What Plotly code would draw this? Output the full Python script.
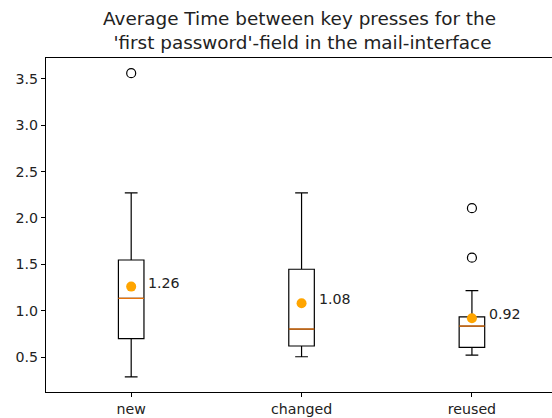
import plotly.graph_objects as go

categories = ["new", "changed", "reused"]
q1 = [0.70, 0.62, 0.605]
medians = [1.134, 0.803, 0.835]
q3 = [1.547, 1.447, 0.935]
lower_whisker = [0.288, 0.504, 0.522]
upper_whisker = [2.27, 2.27, 1.216]
means = [1.26, 1.08, 0.92]
outliers = {"new": [3.56], "changed": [], "reused": [2.105, 1.572]}
y_ticks = [0.5, 1.0, 1.5, 2.0, 2.5, 3.0, 3.5]

title_text = "Average Time between key presses for the<br> 'first password'-field in the mail-interface"

BOX_W = 0.15
positions = [i + 1 for i in range(len(categories))]

fig = go.Figure()

for i, cat in enumerate(categories):
    fig.add_trace(go.Box(
        x=[positions[i]], q1=[q1[i]], median=[medians[i]], q3=[q3[i]],
        lowerfence=[lower_whisker[i]], upperfence=[upper_whisker[i]],
        width=BOX_W, whiskerwidth=0.5,
        line=dict(color="black", width=1.2),
        fillcolor="rgba(0,0,0,0)", showlegend=False, hoverinfo="skip",
    ))

# median lines (orange)
for i, cat in enumerate(categories):
    fig.add_trace(go.Scatter(
        x=[positions[i] - BOX_W / 2, positions[i] + BOX_W / 2],
        y=[medians[i], medians[i]], mode="lines",
        line=dict(color="#ff7f0e", width=1.2), showlegend=False, hoverinfo="skip",
    ))

# outliers
ox, oy = [], []
for i, cat in enumerate(categories):
    for v in outliers[cat]:
        ox.append(positions[i])
        oy.append(v)
fig.add_trace(go.Scatter(
    x=ox, y=oy, mode="markers",
    marker=dict(symbol="circle-open", size=9, color="black", line=dict(width=1.2)),
    showlegend=False, hoverinfo="skip",
))

# means
fig.add_trace(go.Scatter(
    x=positions, y=means, mode="markers",
    marker=dict(symbol="circle", size=10, color="orange"),
    showlegend=False, hoverinfo="skip",
))

for i, m in enumerate(means):
    fig.add_annotation(
        x=positions[i], y=m, text=f"{m:.2f}", showarrow=False,
        xanchor="left", yanchor="middle", xshift=15, yshift=4,
        font=dict(family="DejaVu Sans", size=14.2, color="#222"),
    )

fig.add_annotation(
    xref="paper", yref="paper", x=0.5, y=1, xanchor="center", yanchor="bottom",
    yshift=3, text=title_text, showarrow=False, align="center",
    font=dict(family="DejaVu Sans", size=18.4, color="#222"),
)

all_vals = lower_whisker + upper_whisker + [v for vs in outliers.values() for v in vs]
lo, hi = min(all_vals), max(all_vals)
pad = (hi - lo) * 0.05

fig.update_layout(
    width=552, height=418,
    margin=dict(l=46, r=0, t=58, b=26),
    paper_bgcolor="white", plot_bgcolor="white",
    font=dict(family="DejaVu Sans", size=14.2, color="#222"),
)
fig.update_xaxes(
    range=[0.5, 3.47], tickvals=positions, ticktext=categories,
    showline=True, linecolor="black", linewidth=1, mirror=True,
    ticks="outside", ticklen=4, tickcolor="black", showgrid=False, zeroline=False,
)
fig.update_yaxes(
    range=[lo - pad, hi + pad], tickvals=y_ticks, ticktext=[f"{t:.1f}" for t in y_ticks],
    showline=True, linecolor="black", linewidth=1,
    ticks="outside", ticklen=4, tickcolor="black", showgrid=False, zeroline=False,
)

fig.write_html("out.html", config={"displayModeBar": False},
               post_script="document.body.style.margin='0px';")
